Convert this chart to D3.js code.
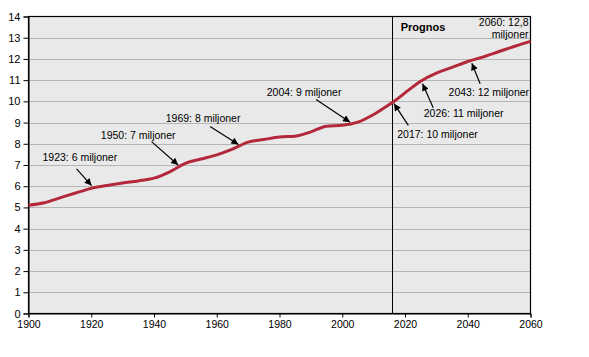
<!DOCTYPE html>
<html><head><meta charset="utf-8">
<script src="https://cdn.jsdelivr.net/npm/d3@7"></script>
<style>body{margin:0;background:#fff;}svg{display:block;font-family:"Liberation Sans",Arial,sans-serif;}</style>
</head><body><svg id="c" width="589" height="357"></svg>
<script>
const years = [1900,1905,1910,1915,1920,1925,1930,1935,1940,1945,1950,1955,1960,1965,1970,1975,1980,1985,1990,1995,2000,2005,2010,2015,2017,2020,2025,2030,2035,2040,2045,2050,2055,2060];
const population = [5.1,5.22,5.45,5.68,5.9,6.03,6.15,6.25,6.38,6.68,7.08,7.28,7.48,7.75,8.08,8.2,8.32,8.36,8.56,8.83,8.87,9.02,9.38,9.85,10.05,10.4,10.95,11.33,11.6,11.88,12.1,12.35,12.6,12.83];
const xTicks = [1900,1920,1940,1960,1980,2000,2020,2040,2060];
const yTicks = [0,1,2,3,4,5,6,7,8,9,10,11,12,13,14];
const prognosYear = 2016;
const annLabels = ["1923: 6 miljoner","1950: 7 miljoner","1969: 8 miljoner","2004: 9 miljoner","2017: 10 miljoner","2026: 11 miljoner","2043: 12 miljoner"];
const annYears = [1920.1,1947.7,1966.9,2002.5,2016.5,2025.6,2041.3];
const annValues = [6.03,7.0,7.97,9.02,9.89,10.83,11.8];
// layout: arrow start offset and text offset from arrow tip (px)
const annLayout = [
  {sx:-15,sy:-16.7,tx:-11.7,ty:-28},
  {sx:-26.6,sy:-23.4,tx:-40,ty:-29.4},
  {sx:-28.3,sy:-18,tx:-35.3,ty:-25.7},
  {sx:-34,sy:-22.7,tx:-46,ty:-30},
  {sx:14.3,sy:21.7,tx:43.5,ty:31},
  {sx:10.6,sy:24,tx:41.1,ty:30},
  {sx:8.3,sy:20.6,tx:17,ty:29.6}
];

const svg = d3.select("#c");
const x = d3.scaleLinear().domain([1900,2060]).range([28.5,530.5]);
const y = d3.scaleLinear().domain([0,14]).range([313.5,16.5]);

svg.append("rect").attr("x",x(1900)).attr("y",y(14)).attr("width",x(2060)-x(1900)).attr("height",y(0)-y(14)).attr("fill","#e9e9e9");

svg.append("g").selectAll("line").data(yTicks.filter(d=>d>0&&d<14)).join("line")
  .attr("x1",x(1900)).attr("x2",x(2060)).attr("y1",d=>Math.round(y(d))+0.5).attr("y2",d=>Math.round(y(d))+0.5)
  .attr("stroke","#b5b5b5").attr("stroke-width",1);

svg.append("line").attr("x1",Math.round(x(prognosYear))+0.5).attr("x2",Math.round(x(prognosYear))+0.5)
  .attr("y1",y(14)).attr("y2",y(0)).attr("stroke","#000").attr("stroke-width",1);

svg.append("rect").attr("x",x(1900)).attr("y",y(14)).attr("width",x(2060)-x(1900)).attr("height",y(0)-y(14))
  .attr("fill","none").attr("stroke","#000").attr("stroke-width",1.2);

const yAxis = d3.axisLeft(y).tickValues(yTicks).tickSize(5).tickPadding(3);
const gy = svg.append("g").attr("transform",`translate(${x(1900)},0)`).call(yAxis);
gy.select(".domain").attr("stroke","#000");
gy.selectAll("text").attr("font-size","11px").attr("fill","#000").attr("font-family","Liberation Sans, Arial, sans-serif");

const xAxis = d3.axisBottom(x).tickValues(xTicks).tickFormat(d3.format("d")).tickSize(4).tickPadding(3);
const gx = svg.append("g").attr("transform",`translate(0,${y(0)})`).call(xAxis);
gx.select(".domain").attr("stroke","#000");
gx.selectAll("text").attr("font-size","10.5px").attr("fill","#000").attr("font-family","Liberation Sans, Arial, sans-serif");

const data = years.map((yr,i)=>({yr,v:population[i]}));
svg.append("path").datum(data)
  .attr("d",d3.line().x(d=>x(d.yr)).y(d=>y(d.v)).curve(d3.curveMonotoneX))
  .attr("fill","none").attr("stroke","#b3293b").attr("stroke-width",3).attr("stroke-linejoin","round");

svg.append("defs").append("marker").attr("id","ah").attr("viewBox","0 0 10 10").attr("refX",10).attr("refY",5)
  .attr("markerWidth",8).attr("markerHeight",7).attr("markerUnits","userSpaceOnUse").attr("orient","auto")
  .append("path").attr("d","M0,0L10,5L0,10Z").attr("fill","#000");

const ann = annLabels.map((t,i)=>({t,tx:x(annYears[i]),ty:y(annValues[i]),l:annLayout[i]}));
const ga = svg.append("g");
ga.selectAll("line").data(ann).join("line")
  .attr("x1",d=>d.tx+d.l.sx).attr("y1",d=>d.ty+d.l.sy).attr("x2",d=>d.tx).attr("y2",d=>d.ty)
  .attr("stroke","#000").attr("stroke-width",1.2).attr("marker-end","url(#ah)");
ga.selectAll("text").data(ann).join("text")
  .attr("x",d=>d.tx+d.l.tx).attr("y",d=>d.ty+d.l.ty).attr("dy","0.35em").attr("text-anchor","middle")
  .attr("font-size","10.5px").attr("fill","#000").text(d=>d.t);

svg.append("text").attr("x",x(2060)-2).attr("y",22.3).attr("dy","0.35em").attr("text-anchor","end")
  .attr("font-size","10.5px").text("2060: 12,8");
svg.append("text").attr("x",x(2060)-2).attr("y",34.3).attr("dy","0.35em").attr("text-anchor","end")
  .attr("font-size","10.5px").text("miljoner");
svg.append("text").attr("x",400.7).attr("y",27.3).attr("dy","0.35em").attr("text-anchor","start")
  .attr("font-size","11px").attr("font-weight","bold").text("Prognos");
</script></body></html>
